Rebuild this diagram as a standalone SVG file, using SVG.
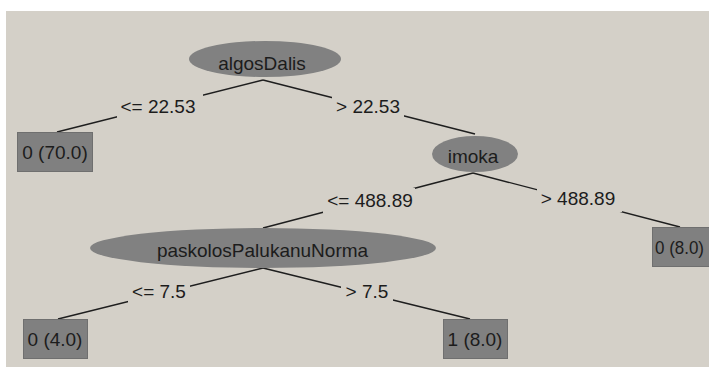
<svg xmlns="http://www.w3.org/2000/svg" width="709" height="368" viewBox="0 0 709 368">
  <style>
    text { font-family: "Liberation Sans", Arial, sans-serif; font-size: 19px; fill: #1c1c1c; }
    .mid { text-anchor: middle; }
    .inner { fill: #818181; }
    .leaf { fill: #808080; stroke: #6f6f6f; stroke-width: 1; }
    .edge { stroke: #1e1e1e; stroke-width: 1.4; fill: none; }
    .lblbg { fill: #d4d0c8; }
  </style>

  <!-- panel -->
  <rect x="0" y="0" width="709" height="368" fill="#ffffff"/>
  <rect x="6" y="11" width="703" height="356" fill="#d4d0c8"/>

  <!-- connectors -->
  <g id="edges">
    <line class="edge" x1="263" y1="80" x2="57" y2="132"/>
    <line class="edge" x1="263" y1="80" x2="475" y2="134"/>
    <line class="edge" x1="473" y1="173" x2="263" y2="228"/>
    <line class="edge" x1="473" y1="173" x2="680" y2="227"/>
    <line class="edge" x1="263" y1="268" x2="58" y2="319"/>
    <line class="edge" x1="263" y1="268" x2="470" y2="319"/>

    <g id="lbl-le-22.53">
      <rect class="lblbg" x="117" y="94" width="86" height="25"/>
      <text class="mid" x="158" y="113">&lt;= 22.53</text>
    </g>
    <g id="lbl-gt-22.53">
      <rect class="lblbg" x="332" y="94" width="72" height="25"/>
      <text class="mid" x="368" y="113">&gt; 22.53</text>
    </g>
    <g id="lbl-le-488.89">
      <rect class="lblbg" x="323" y="188" width="92" height="25"/>
      <text class="mid" x="370" y="207">&lt;= 488.89</text>
    </g>
    <g id="lbl-gt-488.89">
      <rect class="lblbg" x="537" y="186" width="85" height="26"/>
      <text class="mid" x="578" y="205">&gt; 488.89</text>
    </g>
    <g id="lbl-le-7.5">
      <rect class="lblbg" x="128" y="279" width="62" height="25"/>
      <text class="mid" x="159" y="298">&lt;= 7.5</text>
    </g>
    <g id="lbl-gt-7.5">
      <rect class="lblbg" x="341" y="279" width="52" height="25"/>
      <text class="mid" x="367" y="298">&gt; 7.5</text>
    </g>
  </g>

  <!-- split nodes -->
  <g id="node-algosDalis">
    <ellipse class="inner" cx="265" cy="59" rx="76" ry="18"/>
    <text class="mid" x="262" y="69.5">algosDalis</text>
  </g>
  <g id="node-imoka">
    <ellipse class="inner" cx="475" cy="154" rx="43" ry="18"/>
    <text class="mid" x="473" y="163">imoka</text>
  </g>
  <g id="node-paskolosPalukanuNorma">
    <ellipse class="inner" cx="263" cy="248" rx="173" ry="20"/>
    <text class="mid" x="262.5" y="257">paskolosPalukanuNorma</text>
  </g>

  <!-- leaves -->
  <g id="leaf-0-70">
    <rect class="leaf" x="17.5" y="132.5" width="75" height="39"/>
    <text class="mid" x="55" y="158.5">0 (70.0)</text>
  </g>
  <g id="leaf-0-8">
    <rect class="leaf" x="652.5" y="227.5" width="64" height="39"/>
    <text x="655" y="253.5" textLength="49" lengthAdjust="spacingAndGlyphs">0 (8.0)</text>
  </g>
  <g id="leaf-0-4">
    <rect class="leaf" x="23.5" y="319.5" width="64" height="39"/>
    <text class="mid" x="55" y="345.5">0 (4.0)</text>
  </g>
  <g id="leaf-1-8">
    <rect class="leaf" x="443.5" y="319.5" width="64" height="39"/>
    <text class="mid" x="475" y="345.5">1 (8.0)</text>
  </g>
</svg>
